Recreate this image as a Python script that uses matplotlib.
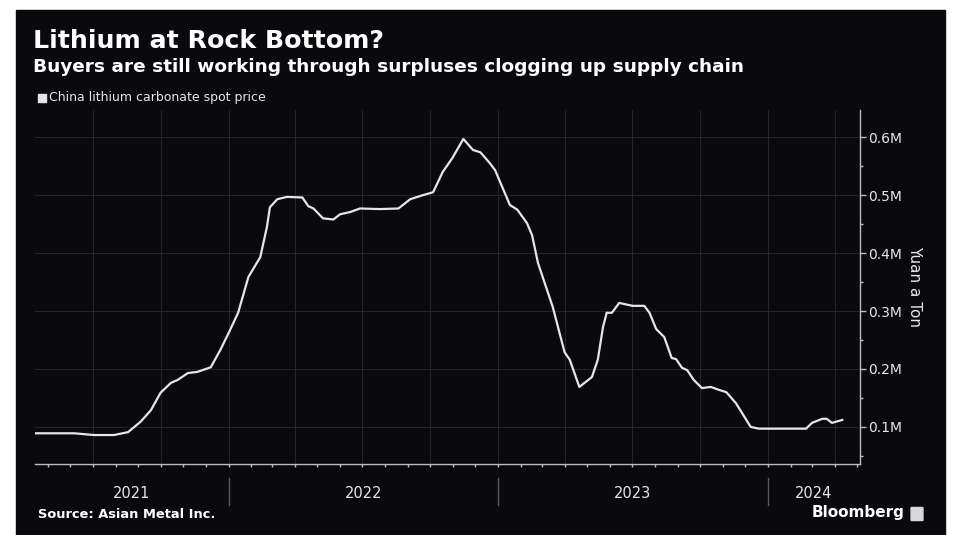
import numpy as np
import pandas as pd
import matplotlib
matplotlib.use("Agg")
import matplotlib.pyplot as plt
import matplotlib.dates as mdates
from matplotlib.patches import Rectangle, FancyBboxPatch
from matplotlib.ticker import FuncFormatter, MultipleLocator

# China lithium carbonate spot price, million yuan a ton
dates = pd.to_datetime([
    "2021-04-14", "2021-06-06", "2021-07-03", "2021-07-30", "2021-08-18",
    "2021-09-04", "2021-09-18", "2021-10-01", "2021-10-15", "2021-10-24",
    "2021-11-07", "2021-11-20", "2021-12-08", "2021-12-21", "2022-01-03",
    "2022-01-14", "2022-01-28", "2022-02-13", "2022-02-22", "2022-02-26",
    "2022-03-08", "2022-03-21", "2022-04-11", "2022-04-19", "2022-04-26",
    "2022-05-09", "2022-05-23", "2022-06-01", "2022-06-15", "2022-06-28",
    "2022-07-25", "2022-08-19", "2022-09-04", "2022-09-21", "2022-10-05",
    "2022-10-18", "2022-10-31", "2022-11-15", "2022-11-28", "2022-12-08",
    "2022-12-21", "2022-12-28", "2023-01-17", "2023-01-27", "2023-02-09",
    "2023-02-16", "2023-02-24", "2023-03-16", "2023-04-01", "2023-04-08",
    "2023-04-21", "2023-05-08", "2023-05-16", "2023-05-23", "2023-05-28",
    "2023-06-04", "2023-06-14", "2023-07-02", "2023-07-18", "2023-07-25",
    "2023-08-03", "2023-08-14", "2023-08-24", "2023-08-30", "2023-09-07",
    "2023-09-14", "2023-09-23", "2023-10-04", "2023-10-16", "2023-10-27",
    "2023-11-06", "2023-11-19", "2023-12-09", "2023-12-20", "2024-02-03",
    "2024-02-22", "2024-03-01", "2024-03-15", "2024-03-21", "2024-03-28",
    "2024-04-11",
])
price = [
    0.089, 0.089, 0.086, 0.086, 0.091,
    0.109, 0.129, 0.159, 0.176, 0.181,
    0.193, 0.195, 0.203, 0.233, 0.267,
    0.297, 0.359, 0.393, 0.445, 0.479,
    0.493, 0.497, 0.496, 0.481, 0.477,
    0.460, 0.458, 0.467, 0.471, 0.477,
    0.476, 0.477, 0.493, 0.500, 0.505,
    0.540, 0.564, 0.597, 0.578, 0.574,
    0.555, 0.543, 0.483, 0.475, 0.452,
    0.431, 0.383, 0.307, 0.229, 0.216,
    0.169, 0.186, 0.216, 0.272, 0.297,
    0.297, 0.314, 0.309, 0.309, 0.297,
    0.269, 0.255, 0.219, 0.217, 0.202,
    0.198, 0.181, 0.167, 0.169, 0.164,
    0.160, 0.141, 0.100, 0.097, 0.097,
    0.097, 0.107, 0.114, 0.114, 0.107,
    0.112,
]
years = [2021, 2022, 2023, 2024]
x_start, x_end = pd.Timestamp("2021-04-14"), pd.Timestamp("2024-05-05")

BG = "#0a090d"
FG = "#e6e6e6"
GRID = "#26232b"
SPINE = "#bdbdbd"
FONT = ["DejaVu Sans"]

W, H = 970, 535
fig = plt.figure(figsize=(W / 100, H / 100), dpi=100, facecolor="white")
fig.patches.append(Rectangle((16 / W, 0), (945 - 16) / W, (H - 10) / H,
                             transform=fig.transFigure, color=BG, zorder=-10))

ax = fig.add_axes([35 / W, (H - 464) / H, 825 / W, 354 / H])
ax.set_zorder(5)
ax.set_facecolor(BG)
ax.plot(dates, price, color=FG, linewidth=1.6, solid_joinstyle="round")

ax.set_xlim(x_start, x_end)
ax.set_ylim(0.036, 0.647)

# axes styling
for side in ("top", "left"):
    ax.spines[side].set_visible(False)
for side in ("bottom", "right"):
    ax.spines[side].set_color(SPINE)
    ax.spines[side].set_linewidth(1.0)

ax.yaxis.tick_right()
ax.yaxis.set_major_locator(MultipleLocator(0.1))
ax.yaxis.set_minor_locator(MultipleLocator(0.05))
ax.yaxis.set_major_formatter(FuncFormatter(lambda v, _: f"{v:.1f}M"))
ax.tick_params(axis="y", which="major", length=4, width=1, color=SPINE,
               labelcolor=FG, labelsize=10, pad=2)
ax.tick_params(axis="y", which="minor", length=2, width=1, color=SPINE)
ax.set_ylabel("Yuan a Ton", color=FG, fontsize=11, rotation=270, labelpad=14)
ax.yaxis.set_label_position("right")

ax.xaxis.set_major_locator(mdates.MonthLocator(bymonth=[1, 4, 7, 10]))
ax.xaxis.set_minor_locator(mdates.MonthLocator())
ax.xaxis.set_major_formatter(plt.NullFormatter())
ax.tick_params(axis="x", which="both", length=2, width=1, color=SPINE)
ax.grid(True, which="major", color=GRID, linewidth=0.7)
ax.set_axisbelow(True)

# year separators and year labels under the axis
xt = ax.get_xaxis_transform()
for yr in years[1:]:
    ax.plot([pd.Timestamp(f"{yr}-01-01")] * 2, [-0.04, -0.116], transform=xt,
            color="#5a5a5a", linewidth=1, clip_on=False)
for yr in years:
    lo = max(pd.Timestamp(f"{yr}-01-01"), x_start)
    hi = min(pd.Timestamp(f"{yr + 1}-01-01"), x_end)
    ax.text(lo + (hi - lo) / 2, -0.083, str(yr), transform=xt, ha="center",
            va="center", color=FG, fontsize=10.5)

# titles and legend
fig.text(33 / W, 1 - 41 / H, "Lithium at Rock Bottom?", color="white",
         fontsize=18.2, fontweight="bold", va="center", family=FONT)
fig.text(33 / W, 1 - 67 / H,
         "Buyers are still working through surpluses clogging up supply chain",
         color="white", fontsize=13.3, fontweight="bold", va="center", family=FONT)
fig.patches.append(Rectangle((38 / W, 1 - 102 / H), 8 / W, 8 / H,
                             transform=fig.transFigure, color=FG))
fig.text(49 / W, 1 - 98 / H, "China lithium carbonate spot price", color=FG,
         fontsize=9.0, va="center")

# footer
fig.text(38 / W, 1 - 514 / H, "Source: Asian Metal Inc.", color="white",
         fontsize=9.4, fontweight="bold", va="center")
fig.text(905 / W, 1 - 513 / H, "Bloomberg", color="white", fontsize=11,
         fontweight="bold", ha="right", va="center")
fig.patches.append(FancyBboxPatch((912 / W, 1 - 520 / H), 10 / W, 12 / H,
                                  boxstyle="round,pad=0.001",
                                  transform=fig.transFigure, color="#d8d8d8"))

fig.savefig("out.png", dpi=100, facecolor="white")
